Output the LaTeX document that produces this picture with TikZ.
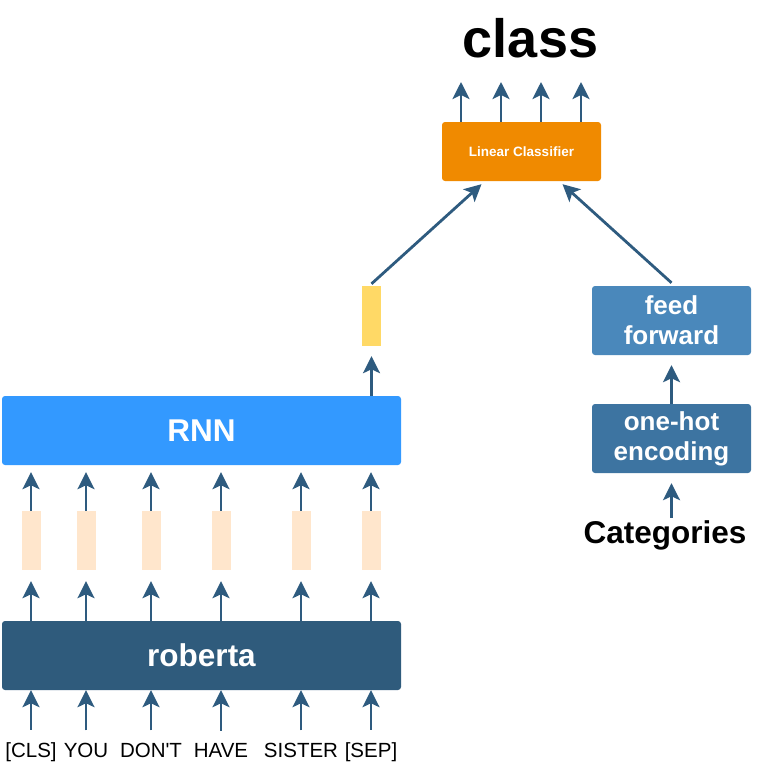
\documentclass[tikz,border=0pt]{standalone}
\usepackage{fontspec}
\setmainfont{Liberation Sans}
\usetikzlibrary{positioning}
\usetikzlibrary{arrows.meta}
\definecolor{arrowblue}{HTML}{2E5B7F}
\definecolor{rnnblue}{HTML}{3399FF}
\definecolor{robblue}{HTML}{2F5B7C}
\definecolor{ffblue}{HTML}{4A88BB}
\definecolor{ohblue}{HTML}{3D74A1}
\definecolor{linorange}{HTML}{F08A00}
\definecolor{hidyellow}{HTML}{FFD966}
\definecolor{featpeach}{HTML}{FFE6CC}

\begin{document}
\begin{tikzpicture}[x=1pt,y=-1pt,
    box/.style={rounded corners=3pt,inner sep=0pt,text=white,align=center,font=\bfseries\fontsize{31.5}{36}\selectfont},
    smallbox/.style={box,minimum width=159pt,minimum height=69pt,font=\bfseries\fontsize{26}{30}\selectfont},
    word/.style={anchor=base,inner sep=0pt,font=\fontsize{20.5}{24}\selectfont},
    feat/.style={fill=featpeach,minimum width=19pt,minimum height=59pt,inner sep=0pt},
    link/.style={draw=arrowblue,line width=2.8pt,-{Stealth[length=17pt,width=17pt,inset=4pt]}}]
\useasboundingbox (0,0) rectangle (762,771);

% main boxes
\node[box,fill=rnnblue,minimum width=399pt,minimum height=69pt] (rnn) at (201.5,430.5) {RNN};
\node[box,fill=robblue,minimum width=399pt,minimum height=69pt] (roberta) at (201.5,655.5) {roberta};
\node[box,fill=linorange,minimum width=159pt,minimum height=59pt,font=\bfseries\fontsize{13.5}{16}\selectfont] (lin) at (521.5,151.5) {Linear Classifier};
\node[smallbox,fill=ffblue] (ff) at (671.5,320.5) {feed\\forward};
\node[smallbox,fill=ohblue] (oh) at (671.5,438.5) {one-hot\\encoding};
\node[feat,fill=hidyellow,minimum height=60pt] (hid) at (371.5,316) {};

% texts
\node[anchor=base,inner sep=0pt,font=\bfseries\fontsize{54}{60}\selectfont] (out) at (530.5,57) {class};
\node[anchor=base,inner sep=0pt,font=\bfseries\fontsize{31.5}{36}\selectfont] (cat) at (665,543) {Categories};

% tokens, features and their arrows
\foreach \n/\x/\w in {cls/31/{[CLS]},you/86/YOU,dont/151/{DON\textquotesingle T},have/221/HAVE,sister/301/SISTER,sep/371/{[SEP]}}{
    \node[word] (w\n) at (\x,757) {\w};
    \node[feat] (f\n) at (\x,540.5) {};
    \draw[link] ([yshift=12pt]w\n.north) -- (w\n |- roberta.south);
    \draw[link,shorten >=11pt] (f\n |- roberta.north) -- (f\n.south);
    \draw[link,shorten >=7pt] (f\n.north) -- (f\n |- rnn.south);
}

% upper part
\draw[link,shorten >=10pt] (hid |- rnn.north) -- (hid.south);
\draw[link] ([yshift=2pt]hid.north) -- ([xshift=-40pt,yshift=-3pt]lin.south);
\draw[link] ([yshift=3pt]ff.north) -- ([xshift=41pt,yshift=-3pt]lin.south);
\draw[link,shorten >=10pt] (oh.north) -- (ff.south);
\draw[link,shorten >=10pt] ([yshift=2pt]oh |- cat.north) -- (oh.south);

\foreach \i/\x in {1/461,2/501,3/541,4/581}{
    \coordinate (o\i) at (\x,82);
    \draw[link] (o\i |- lin.north) -- (o\i);
}
\end{tikzpicture}
\end{document}
